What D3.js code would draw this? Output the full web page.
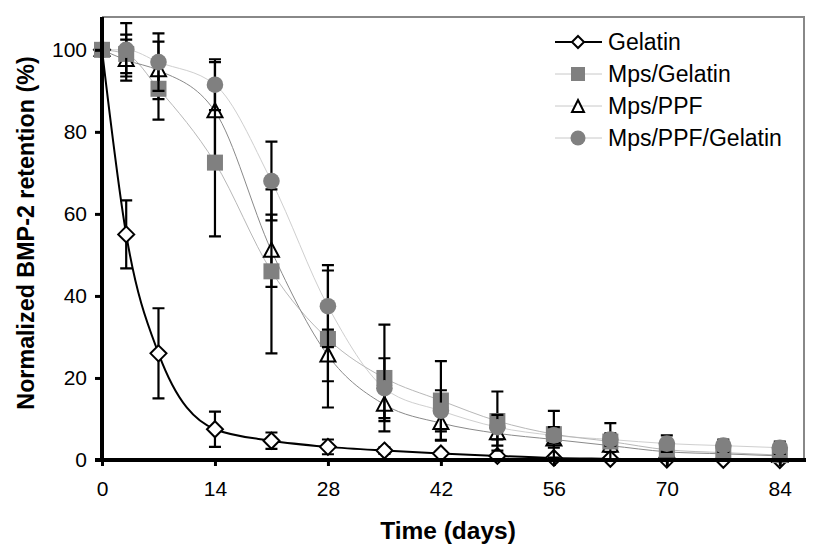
<!DOCTYPE html>
<html><head><meta charset="utf-8">
<script src="https://cdn.jsdelivr.net/npm/d3@7"></script>
<style>body{margin:0;background:#fff;}svg{display:block;font-family:Arial,"Liberation Sans",sans-serif;}</style>
</head><body>
<svg id="c" width="818" height="555"></svg>
<script>
const days = [0, 3, 7, 14, 21, 28, 35, 42, 49, 56, 63, 70, 77, 84];
const xTicks = [0, 14, 28, 42, 56, 70, 84];
const yTicks = [0, 20, 40, 60, 80, 100];

const gelatin     = [100, 55, 26, 7.5, 4.7, 3.2, 2.3, 1.6, 1.0, 0.5, 0.3, 0.1, 0.05, 0];
const gelatinSd   = [0, 8.3, 11, 4.3, 2.0, 1.8, 0.8, 0.6, 0.5, 0.4, 0.3, 0.3, 0.2, 0.2];
const mpsGel      = [100, 99, 90.5, 72.5, 46, 29.5, 20, 14.5, 9.5, 6.3, 4.5, 2.5, 1.8, 1.2];
const mpsGelSd    = [0, 4.7, 7.5, 18, 20, 16.7, 13, 9.6, 7.2, 5.7, 4.5, 1.5, 1.0, 1.0];
const mpsPpf      = [100, 97.5, 95, 85, 51, 25.5, 13.5, 9, 6.5, 5, 3.5, 2, 1.5, 1];
const mpsPpfSd    = [0, 5, 7, 12, 8.8, 6.3, 4, 4.3, 3, 2, 1.5, 1, 1, 1];
const mpsPpfGel   = [100, 100, 97, 91.5, 68, 37.5, 17.5, 12, 8, 6, 5, 4, 3.5, 3];
const mpsPpfGelSd = [0, 6.5, 7, 6.2, 9.6, 10, 7.3, 5, 3, 2, 1.5, 2, 1.5, 1.5];

const seriesNames = ["Gelatin", "Mps/Gelatin", "Mps/PPF", "Mps/PPF/Gelatin"];

const svg = d3.select("#c");
const x = d3.scaleLinear().domain([0, 87]).range([102, 804]);
const y = d3.scaleLinear().domain([0, 108]).range([460, 17]);

const series = [
  {name: seriesNames[0], v: gelatin, sd: gelatinSd, line: "#000", lw: 2, sym: "diamond"},
  {name: seriesNames[2], v: mpsPpf, sd: mpsPpfSd, line: "#8a8a8a", lw: 1, sym: "triangle"},
  {name: seriesNames[1], v: mpsGel, sd: mpsGelSd, line: "#b8b8b8", lw: 1, sym: "square"},
  {name: seriesNames[3], v: mpsPpfGel, sd: mpsPpfGelSd, line: "#cfcfcf", lw: 1, sym: "circle"}
];

// plot frame (top/right)
svg.append("path").attr("d", `M${x(0)},${y(108)}H${x(87)}V${y(0)}`)
  .attr("fill","none").attr("stroke","#888").attr("stroke-width",2);

// fitted lines
const lineGen = d3.line().x(d => x(d[0])).y(d => y(d[1])).curve(d3.curveMonotoneX);
series.slice().reverse().forEach(s => {
  svg.append("path").attr("d", lineGen(days.map((d,i)=>[d, s.v[i]])))
    .attr("fill","none").attr("stroke", s.line).attr("stroke-width", s.lw);
});

function drawSym(g, sym, cx, cy) {
  if (sym === "diamond") {
    g.append("path").attr("d", `M${cx},${cy-8}L${cx+8},${cy}L${cx},${cy+8}L${cx-8},${cy}Z`)
      .attr("fill","#fff").attr("stroke","#000").attr("stroke-width",2);
  } else if (sym === "square") {
    g.append("rect").attr("x",cx-8).attr("y",cy-8).attr("width",16).attr("height",16).attr("fill","#808080");
  } else if (sym === "triangle") {
    g.append("path").attr("d", `M${cx},${cy-8}L${cx+7.5},${cy+6}L${cx-7.5},${cy+6}Z`)
      .attr("fill","#fff").attr("stroke","#000").attr("stroke-width",2);
  } else {
    g.append("circle").attr("cx",cx).attr("cy",cy).attr("r",8.3).attr("fill","#808080");
  }
}

// error bars + markers
series.forEach(s => {
  const g = svg.append("g");
  days.forEach((d,i) => {
    if (s.sd[i] > 0) {
      const xx = x(d), y1 = y(s.v[i]+s.sd[i]), y2 = y(Math.max(s.v[i]-s.sd[i], -2));
      g.append("path").attr("d", `M${xx},${y1}V${y2}M${xx-6},${y1}H${xx+6}M${xx-6},${y2}H${xx+6}`)
        .attr("stroke","#000").attr("stroke-width",2.2).attr("fill","none");
    }
  });
  days.forEach((d,i) => drawSym(g, s.sym, x(d), y(s.v[i])));
});

// axes
const yAxis = svg.append("g").attr("transform",`translate(${x(0)},0)`)
  .call(d3.axisLeft(y).tickValues(yTicks).tickSize(7).tickPadding(8));
const xAxis = svg.append("g").attr("transform",`translate(0,${y(0)})`)
  .call(d3.axisBottom(x).tickValues(xTicks).tickSize(6).tickPadding(15));
[yAxis, xAxis].forEach(a => {
  a.select(".domain").attr("stroke","#000").attr("stroke-width",4);
  a.selectAll(".tick line").attr("stroke","#000").attr("stroke-width",3);
  a.selectAll("text").attr("font-size",21).attr("fill","#000").attr("font-family","Arial, 'Liberation Sans', sans-serif");
});
yAxis.select(".domain").attr("d", `M0,${y(108)}V${y(0)+2}`);
xAxis.select(".domain").attr("d", `M${x(0)-7},0H${x(87)+2}`);

// axis titles
svg.append("text").attr("x",448).attr("y",539).attr("text-anchor","middle")
  .attr("font-size",24.5).attr("font-weight","bold").text("Time (days)");
svg.append("text").attr("transform","translate(34,233) rotate(-90)").attr("text-anchor","middle")
  .attr("font-size",23.3).attr("font-weight","bold").text("Normalized BMP-2 retention (%)");

// legend
const legendOrder = [series[0], series[2], series[1], series[3]];
legendOrder.forEach((s,i) => {
  const ly = 42 + i*32;
  const g = svg.append("g");
  g.append("line").attr("x1",555).attr("x2",602).attr("y1",ly).attr("y2",ly)
    .attr("stroke", i===0 ? "#000" : "#c8c8c8").attr("stroke-width", i===0 ? 2 : 1);
  if (s.sym === "diamond") {
    g.append("path").attr("d", `M578,${ly-6}L584,${ly}L578,${ly+6}L572,${ly}Z`).attr("fill","#fff").attr("stroke","#000").attr("stroke-width",2);
  } else if (s.sym === "square") {
    g.append("rect").attr("x",571).attr("y",ly-7).attr("width",14).attr("height",14).attr("fill","#808080");
  } else if (s.sym === "triangle") {
    g.append("path").attr("d", `M578,${ly-6}L584,${ly+6}L572,${ly+6}Z`).attr("fill","#fff").attr("stroke","#000").attr("stroke-width",2);
  } else {
    g.append("circle").attr("cx",578).attr("cy",ly).attr("r",7.5).attr("fill","#808080");
  }
  g.append("text").attr("x",608).attr("y",ly+8).attr("font-size",23).text(s.name);
});
</script>
</body></html>
